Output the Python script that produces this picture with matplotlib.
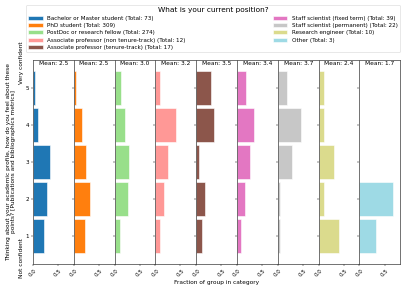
import matplotlib
matplotlib.use("Agg")
import numpy as np
import matplotlib.pyplot as plt

# answer counts per group, levels 1 (not confident) .. 5 (very confident)
levels = [1, 2, 3, 4, 5]
groups = [
    "Bachelor or Master student",
    "PhD student",
    "PostDoc or research fellow",
    "Associate professor (non tenure-track)",
    "Associate professor (tenure-track)",
    "Staff scientist (fixed term)",
    "Staff scientist (permanent)",
    "Research engineer",
    "Other",
]
bachelor = [16, 21, 25, 8, 3]
phd = [68, 99, 74, 53, 15]
postdoc = [28, 75, 80, 58, 33]
assoc_non_tenure = [1, 2, 3, 5, 1]
assoc_tenure = [2, 3, 1, 6, 5]
staff_fixed = [3, 6, 10, 13, 7]
staff_permanent = [1, 1, 6, 10, 4]
research_engineer = [4, 1, 3, 1, 1]
other = [1, 2, 0, 0, 0]
counts = [bachelor, phd, postdoc, assoc_non_tenure, assoc_tenure,
          staff_fixed, staff_permanent, research_engineer, other]

colors = ["#1f77b4", "#ff7f0e", "#98df8a", "#ff9896", "#8c564b",
          "#e377c2", "#c7c7c7", "#dbdb8d", "#9edae5"]

fig, axes = plt.subplots(1, len(groups), figsize=(10, 7.15), dpi=40.7,
                         sharey=True, sharex=True)
fig.subplots_adjust(left=0.081, right=0.9835, bottom=0.093, top=0.794, wspace=0)

handles = []
for ax, name, c, col in zip(axes, groups, counts, colors):
    c = np.array(c, dtype=float)
    total = int(c.sum())
    frac = c / total
    mean = (c * np.array(levels)).sum() / total
    b = ax.barh(levels, frac, height=0.92, color=col, edgecolor="white",
                linewidth=1.0, label=f"{name} (Total: {total})")
    handles.append(b)
    ax.text(0.5, 0.993, f"Mean: {mean:.1f}", transform=ax.transAxes,
            ha="center", va="top", fontsize=10.5)
    ax.set_xlim(0, 0.815)
    ax.set_ylim(0.25, 5.75)
    ax.set_xticks([0.0, 0.5])
    ax.set_yticks(levels)
    ax.tick_params(labelsize=10, length=3.5)
    for lab in ax.get_xticklabels():
        lab.set_rotation(45)
    for s in ax.spines.values():
        s.set_color("#444444")
        s.set_linewidth(1.3)

axes[0].set_ylabel("Thinking about your academic profile, how do you feel about these\n"
                   "points? [Publications and bibliographics metrics]",
                   fontsize=10.5, labelpad=16)
fig.text(0.054, 0.043, "Not confident", rotation=90, ha="center", va="bottom",
         fontsize=10.5)
fig.text(0.054, 0.857, "Very confident", rotation=90, ha="center", va="top",
         fontsize=10.5)
axes[4].set_xlabel("Fraction of group in category", fontsize=10.5)

fig.legend(handles=handles, title="What is your current position?",
           ncol=2, mode="expand", loc="upper left",
           bbox_to_anchor=(0.0614, 0.805, 0.924, 0.182),
           fontsize=10, title_fontsize=13, labelspacing=0.42,
           handlelength=2.5, borderaxespad=0.2)

fig.savefig("out.png", dpi=40.7)
